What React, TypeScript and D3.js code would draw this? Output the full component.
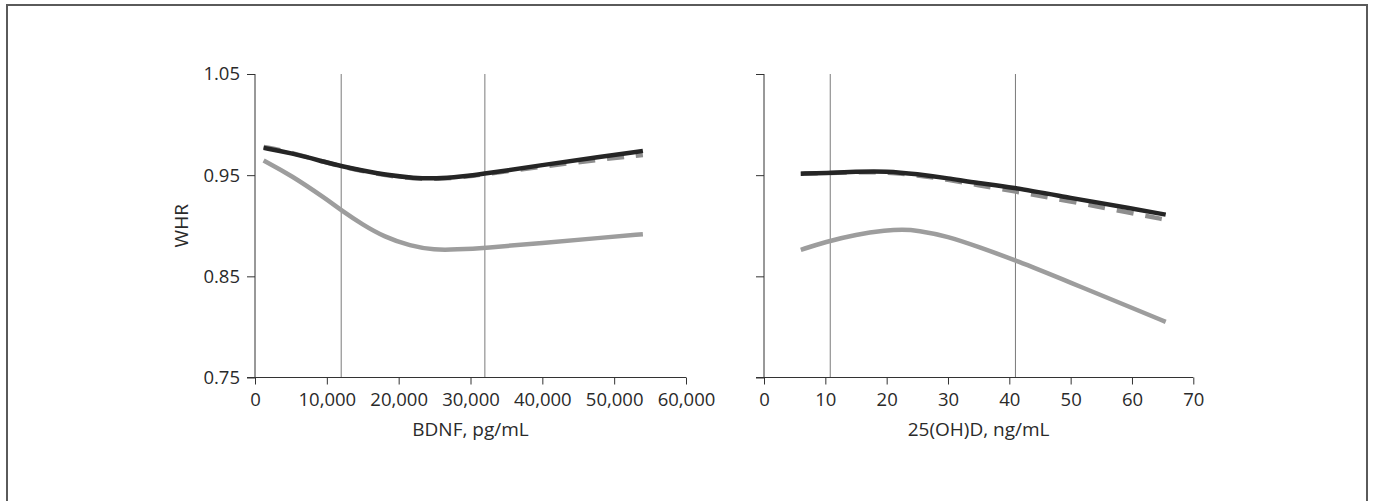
import React, { useRef, useEffect } from 'react';
import * as d3 from 'd3';

// BDNF panel (pg/mL)
const bdnfX = [1200, 5000, 10000, 12000, 15000, 18000, 22000, 26000, 30000, 32000, 40000, 48000, 54000];
const bdnfSolid = [0.977, 0.972, 0.9625, 0.959, 0.9545, 0.9505, 0.947, 0.9465, 0.9495, 0.9515, 0.96, 0.968, 0.974];
const bdnfDashed = [0.978, 0.9725, 0.9625, 0.9588, 0.954, 0.95, 0.9465, 0.946, 0.949, 0.951, 0.9585, 0.9655, 0.97];
const bdnfGrayX = [1200, 5000, 10000, 12000, 15000, 18000, 21600, 25000, 28000, 32000, 40000, 48000, 54000];
const bdnfGray = [0.9645, 0.95, 0.926, 0.9153, 0.901, 0.889, 0.88, 0.876, 0.8765, 0.878, 0.883, 0.888, 0.8916];
const bdnfTicks = [0, 10000, 20000, 30000, 40000, 50000, 60000];
const bdnfCuts = [12000, 32000];

// 25(OH)D panel (ng/mL)
const vitX = [6, 10, 15, 20, 25, 30, 35, 40, 50, 60, 65.5];
const vitSolid = [0.9515, 0.952, 0.9535, 0.954, 0.951, 0.947, 0.942, 0.9385, 0.9275, 0.917, 0.911];
const vitDashed = [0.9515, 0.952, 0.953, 0.953, 0.95, 0.9455, 0.94, 0.935, 0.924, 0.9125, 0.906];
const vitGrayX = [6, 10, 15, 20, 22.5, 25, 30, 35, 41, 50, 60, 65.5];
const vitGray = [0.8762, 0.884, 0.8915, 0.8955, 0.8962, 0.8955, 0.8895, 0.879, 0.866, 0.8437, 0.8189, 0.805];
const vitTicks = [0, 10, 20, 30, 40, 50, 60, 70];
const vitCuts = [10.8, 41];

const yTicks = [0.75, 0.85, 0.95, 1.05];

const FONT = '"Open Sans", sans-serif';

const App = () => {
  const svgRef = useRef<SVGSVGElement | null>(null);

  useEffect(() => {
    const width = 1373;
    const height = 501;
    const svg = d3.select(svgRef.current);
    svg.selectAll('*').remove();
    svg.attr('width', width).attr('height', height).style('background', '#fff');

    // outer frame
    svg.append('rect')
      .attr('x', 7).attr('y', 5).attr('width', 1360).attr('height', 520)
      .attr('fill', 'none').attr('stroke', '#5a5a5a').attr('stroke-width', 2);

    const yScale = d3.scaleLinear().domain([0.75, 1.05]).range([377.5, 74]);

    const panels = [
      {
        x: d3.scaleLinear().domain([0, 60000]).range([255, 686]),
        ticks: bdnfTicks, fmt: d3.format(','), cuts: bdnfCuts,
        solidX: bdnfX, solid: bdnfSolid, dashed: bdnfDashed,
        grayX: bdnfGrayX, gray: bdnfGray,
        title: 'BDNF, pg/mL', yLabels: true,
      },
      {
        x: d3.scaleLinear().domain([0, 70]).range([764, 1193.3]),
        ticks: vitTicks, fmt: d3.format('d'), cuts: vitCuts,
        solidX: vitX, solid: vitSolid, dashed: vitDashed,
        grayX: vitGrayX, gray: vitGray,
        title: '25(OH)D, ng/mL', yLabels: false,
      },
    ];

    panels.forEach(p => {
      const g = svg.append('g');
      const x0 = p.x.range()[0];
      const x1 = p.x.range()[1];
      const yBottom = yScale(0.75);

      // reference cut lines
      p.cuts.forEach(c => {
        g.append('line')
          .attr('x1', p.x(c)).attr('x2', p.x(c))
          .attr('y1', yScale(1.05)).attr('y2', yBottom)
          .attr('stroke', '#7a7a7a').attr('stroke-width', 1);
      });

      // y axis
      const yAxis = d3.axisLeft(yScale).tickValues(yTicks).tickSize(8).tickPadding(7)
        .tickFormat(p.yLabels ? (d => d3.format('.2f')(d as number)) : (() => ''));
      const yAxisG = g.append('g').attr('transform', `translate(${x0},0)`).call(yAxis);
      yAxisG.select('.domain').remove();
      yAxisG.append('line')
        .attr('x1', 0).attr('x2', 0).attr('y1', yScale(1.05)).attr('y2', yBottom)
        .attr('stroke', '#333');

      // x axis
      const xAxis = d3.axisBottom(p.x).tickValues(p.ticks).tickSize(7).tickPadding(8)
        .tickFormat(d => p.fmt(d as number));
      const xAxisG = g.append('g').attr('transform', `translate(0,${yBottom})`).call(xAxis);
      xAxisG.select('.domain').remove();
      xAxisG.append('line')
        .attr('x1', x0 - 8).attr('x2', x1).attr('y1', 0).attr('y2', 0)
        .attr('stroke', '#333');

      g.selectAll('.tick line').attr('stroke', '#333');
      g.selectAll('.tick text')
        .attr('font-family', FONT).attr('font-size', 18.5).attr('fill', '#2a2a2a');

      // axis title
      g.append('text')
        .attr('x', (x0 + x1) / 2).attr('y', 436)
        .attr('text-anchor', 'middle')
        .attr('font-family', FONT).attr('font-size', 19).attr('fill', '#2a2a2a')
        .text(p.title);

      const line = d3.line<[number, number]>()
        .x(d => p.x(d[0]))
        .y(d => yScale(d[1]))
        .curve(d3.curveBasis);

      // light gray curve
      g.append('path')
        .datum(p.grayX.map((v, i) => [v, p.gray[i]] as [number, number]))
        .attr('fill', 'none').attr('stroke', '#9d9d9d').attr('stroke-width', 4.5)
        .attr('d', line);

      // dashed curve beneath solid black
      g.append('path')
        .datum(p.solidX.map((v, i) => [v, p.dashed[i]] as [number, number]))
        .attr('fill', 'none').attr('stroke', '#8e8e8e').attr('stroke-width', 4.5)
        .attr('stroke-dasharray', '17,12')
        .attr('d', line);

      g.append('path')
        .datum(p.solidX.map((v, i) => [v, p.solid[i]] as [number, number]))
        .attr('fill', 'none').attr('stroke', '#252525').attr('stroke-width', 4.5)
        .attr('d', line);
    });

    // y axis title
    svg.append('text')
      .attr('transform', `translate(188,${yScale(0.9)}) rotate(-90)`)
      .attr('text-anchor', 'middle')
      .attr('font-family', FONT).attr('font-size', 19).attr('fill', '#2a2a2a')
      .text('WHR');
  }, []);

  return (
    <div style={{ position: 'absolute', left: 0, top: 0 }}>
      <svg ref={svgRef}></svg>
    </div>
  );
};

export default App;
